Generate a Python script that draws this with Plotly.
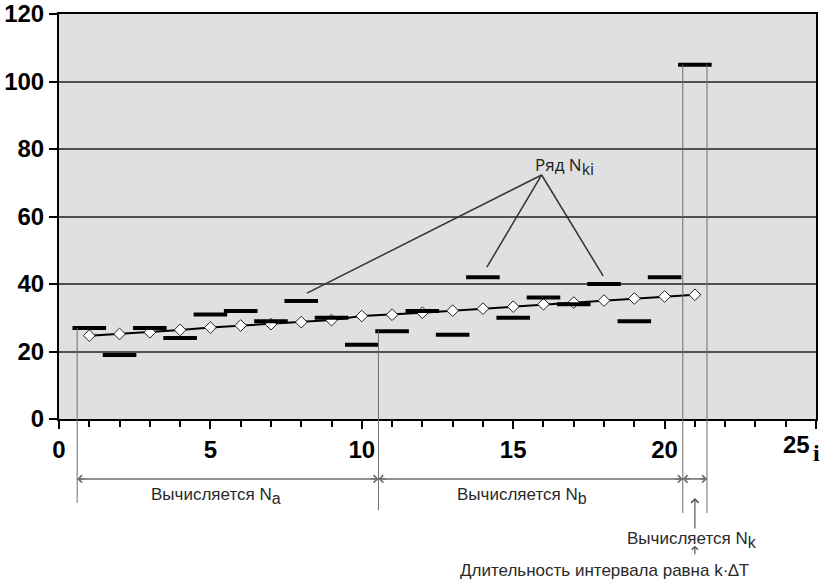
import plotly.graph_objects as go

# Номера интервалов i
intervalos = list(range(1, 22))

# Ряд N_ki (горизонтальные черточки)
serie_nk = [27, 19, 27, 24, 31, 32, 29, 35, 30, 22, 26, 32, 25, 42, 30, 36, 34, 40, 29, 42, 105]

# Сглаженная линия (ромбы)
tendencia = [24.7, 25.2, 25.7, 26.4, 27.1, 27.7, 28.1, 28.7, 29.3, 30.5, 30.9,
             31.5, 32.1, 32.7, 33.3, 34.0, 34.5, 35.1, 35.7, 36.3, 36.8]

# Подписи оси x (25 выводится отдельно, левее и выше)
x_ticks = [0, 5, 10, 15, 20, 25]
x_labels = ['0', '5', '10', '15', '20', '']

# Границы участков a, b, k
limites = [0.6, 10.55, 20.6, 21.4]
topo_limites = [serie_nk[0], serie_nk[10], serie_nk[20], serie_nk[20]]

# Концы выносных линий подписи "Ряд N_ki"
ponta_legenda = (15.94, 72.3)
alvos_legenda = [(8.19, 37.3), (14.13, 45.0), (17.97, 42.4)]

fig = go.Figure()

fig.add_trace(go.Scatter(x=intervalos, y=tendencia, mode='lines+markers',
                         line=dict(color='black', width=2),
                         marker=dict(symbol='diamond', size=9, color='white',
                                     line=dict(color='#222', width=1)),
                         showlegend=False))

fig.add_trace(go.Scatter(x=intervalos, y=serie_nk, mode='markers',
                         marker=dict(symbol='line-ew', size=24,
                                     line=dict(color='black', width=4)),
                         showlegend=False))

# Вертикальные тонкие линии (внутри графика и ниже оси)
y_fim = [-0.207, -0.225, -0.232, -0.232]
for xb, yt, yf in zip(limites, topo_limites, y_fim):
    fig.add_shape(type='line', xref='x', yref='y', x0=xb, x1=xb, y0=0, y1=yt,
                  line=dict(color='#6e6e6e', width=1))
    fig.add_shape(type='line', xref='x', yref='paper', x0=xb, x1=xb, y0=0, y1=yf,
                  line=dict(color='#6e6e6e', width=1))

# Двусторонние стрелки под осью
y_seta = -0.148
for a, b in zip(limites[:-1], limites[1:]):
    fig.add_shape(type='line', xref='x', yref='paper', x0=a, x1=b, y0=y_seta, y1=y_seta,
                  line=dict(color='#6e6e6e', width=1.5))
    for xh, dx in [(a, 9), (b, -9)]:
        fig.add_annotation(x=xh, y=y_seta, xref='x', yref='paper', text='',
                           showarrow=True, ax=dx, ay=0, arrowhead=4, arrowsize=1.2,
                           arrowwidth=1.2, arrowcolor='#6e6e6e')

# Выносные линии подписи ряда
for xa, ya in alvos_legenda:
    fig.add_shape(type='line', xref='x', yref='y', x0=ponta_legenda[0], y0=ponta_legenda[1],
                  x1=xa, y1=ya, line=dict(color='#333', width=1.5))

fig.add_annotation(x=16.7, y=74.8, xref='x', yref='y',
                   text='Ряд N<sub><span style="font-size:16px">ki</span></sub>',
                   showarrow=False, font=dict(family='Open Sans', size=17, color='#222'))

texto = dict(family='Liberation Sans', size=17, color='#2a2a2a')
sub = '<sub><span style="font-size:16px">{}</span></sub>'
fig.add_annotation(x=5.2, y=-0.19, xref='x', yref='paper', text='Вычисляется N' + sub.format('a'),
                   showarrow=False, yanchor='middle', font=texto)
fig.add_annotation(x=15.3, y=-0.19, xref='x', yref='paper', text='Вычисляется N' + sub.format('b'),
                   showarrow=False, yanchor='middle', font=texto)
fig.add_annotation(x=20.9, y=-0.299, xref='x', yref='paper', text='Вычисляется N' + sub.format('k'),
                   showarrow=False, yanchor='middle', font=texto)
fig.add_annotation(x=18.0, y=-0.373, xref='x', yref='paper', text='Длительность интервала равна k·∆T',
                   showarrow=False, yanchor='middle', font=texto)

# Маленькие стрелки вверх
fig.add_annotation(x=21.0, y=-0.195, xref='x', yref='paper', text='', showarrow=True,
                   ax=0, ay=32, arrowhead=4, arrowsize=1.2, arrowwidth=1.2, arrowcolor='#555')
fig.add_annotation(x=21.0, y=-0.313, xref='x', yref='paper', text='', showarrow=True,
                   ax=0, ay=10, arrowhead=4, arrowsize=1.0, arrowwidth=1.2, arrowcolor='#555')

eixo_fonte = dict(family='Liberation Sans', size=24, color='black', weight='bold')

# Подпись "25" (сдвинута влево) и подпись оси i
fig.add_annotation(x=25, y=-0.062, xref='x', yref='paper', text='25', showarrow=False,
                   xanchor='right', yanchor='middle', xshift=-4, font=eixo_fonte)
fig.add_annotation(x=1.008, y=-0.084, xref='paper', yref='paper', text='i', showarrow=False,
                   yanchor='middle',
                   font=dict(family='Liberation Serif', size=24, color='black', weight='bold'))

fig.update_layout(width=833, height=585,
                  margin=dict(l=59, r=17, t=14, b=166),
                  plot_bgcolor='#e0e0e0', paper_bgcolor='white',
                  xaxis=dict(range=[0, 25], tickvals=x_ticks, ticktext=x_labels,
                             ticks='outside', ticklen=8, tickwidth=1.5,
                             tickcolor='black', showgrid=False, zeroline=False, automargin=False,
                             showline=True, linecolor='black', linewidth=2, mirror=True,
                             tickfont=eixo_fonte,
                             minor=dict(dtick=1, ticks='outside', ticklen=6, tickcolor='black', showgrid=False)),
                  yaxis=dict(range=[0, 120], dtick=20, ticks='outside', ticklen=8, tickwidth=1.5,
                             tickcolor='black', showgrid=True, gridcolor='#505050', gridwidth=1.5,
                             zeroline=False, showline=True, linecolor='black', linewidth=2, mirror=True,
                             automargin=False, tickfont=eixo_fonte))

# tira a margem padrão do body para a figura começar em (0, 0)
fig.write_html("out.html", config={'displayModeBar': False},
               post_script="document.body.style.margin='0px';")
